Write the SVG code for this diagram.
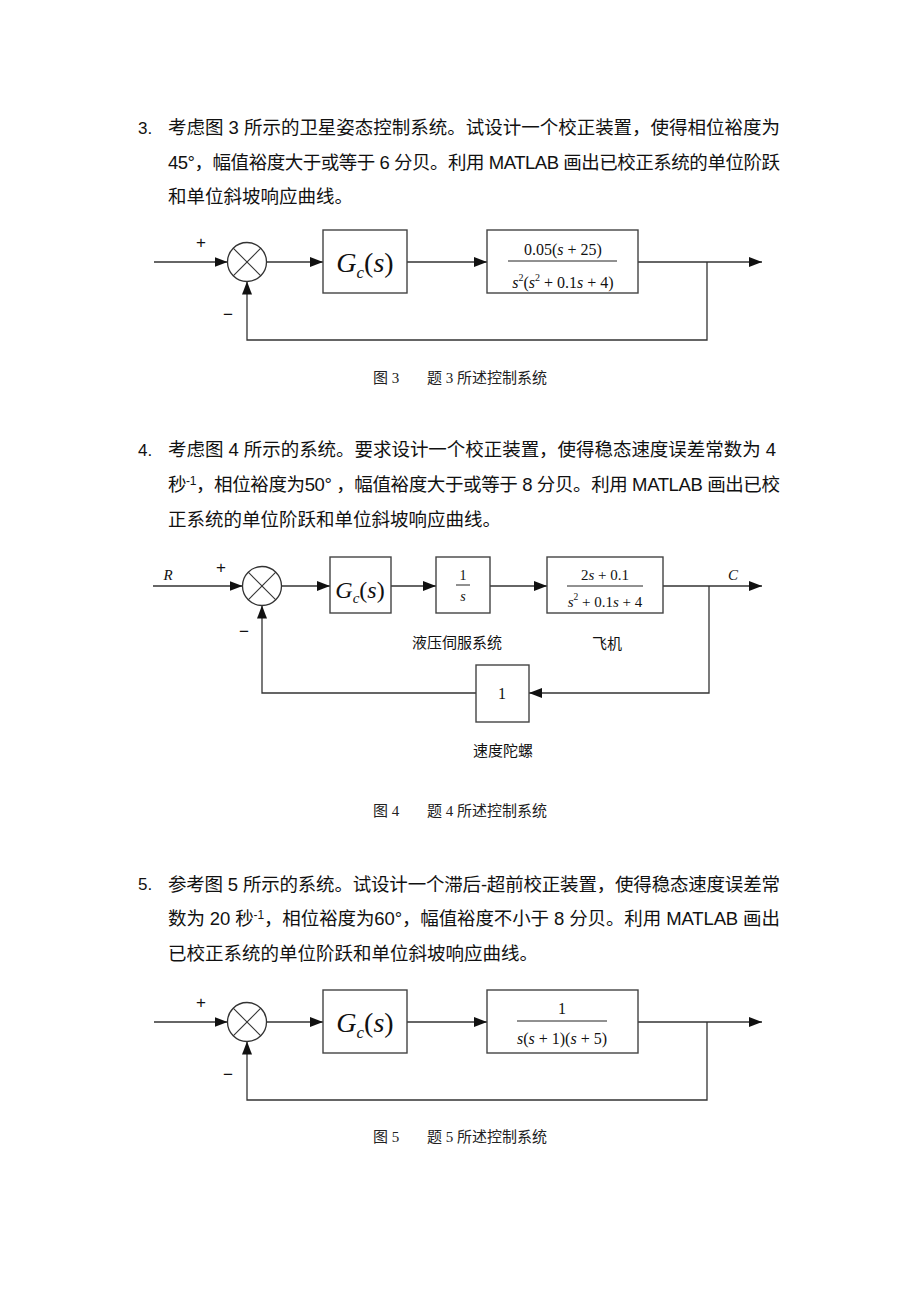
<svg xmlns="http://www.w3.org/2000/svg" width="920" height="1302" viewBox="0 0 920 1302">
<defs>
<marker id="ah" markerWidth="14" markerHeight="10" refX="13" refY="5" orient="auto" markerUnits="userSpaceOnUse">
<path d="M0,0 L13,5 L0,10 Z" fill="#111"/>
</marker>
<style>
.para{font-family:"Liberation Sans","Noto Sans CJK SC",sans-serif;font-size:18.5px;fill:#111}
.num{font-family:"Liberation Sans","Noto Sans CJK SC",sans-serif;font-size:17px;fill:#111}
.cap{font-family:"Liberation Serif","Noto Sans CJK SC",serif;font-size:15px;fill:#222}
.lab{font-family:"Noto Sans CJK SC",sans-serif;font-size:15px;fill:#111}
.sign{font-family:"Liberation Sans",sans-serif;font-size:17px;fill:#111}
.m{font-family:"Liberation Serif",serif;fill:#111}
.i{font-style:italic}
.box{fill:#fff;stroke:#444;stroke-width:1.4}
.sum{fill:#fff;stroke:#333;stroke-width:1.3}
.x{stroke:#333;stroke-width:1.1}
.w{fill:none;stroke:#333;stroke-width:1.3}
.fl{stroke:#222;stroke-width:1}
</style>
</defs>
<rect width="920" height="1302" fill="#fff"/>

<!-- Problem 3 text -->
<g id="problem3-text">
<text class="num" x="138" y="134">3.</text>
<text class="para" x="168" y="134" textLength="612" lengthAdjust="spacing">考虑图 3 所示的卫星姿态控制系统。试设计一个校正装置，使得相位裕度为</text>
<text class="para" x="168" y="169" textLength="612" lengthAdjust="spacing">45°，幅值裕度大于或等于 6 分贝。利用 MATLAB 画出已校正系统的单位阶跃</text>
<text class="para" x="168" y="203">和单位斜坡响应曲线。</text>
</g>

<!-- Figure 3 -->
<g id="fig3-connectors">
<line class="w" x1="154" y1="262" x2="227.5" y2="262" marker-end="url(#ah)"/>
<line class="w" x1="266.5" y1="262" x2="323" y2="262" marker-end="url(#ah)"/>
<line class="w" x1="407" y1="262" x2="487" y2="262" marker-end="url(#ah)"/>
<line class="w" x1="638" y1="262" x2="762" y2="262" marker-end="url(#ah)"/>
<polyline class="w" points="707,262 707,340 247,340 247,281.5" marker-end="url(#ah)"/>
</g>
<g id="fig3-sum">
<circle class="sum" cx="247" cy="262" r="19.5"/>
<line class="x" x1="233.2" y1="248.2" x2="260.8" y2="275.8"/>
<line class="x" x1="260.8" y1="248.2" x2="233.2" y2="275.8"/>
<text class="sign" x="201" y="248" text-anchor="middle">+</text>
<text class="sign" x="228" y="320" text-anchor="middle">−</text>
</g>
<g id="fig3-gc">
<rect class="box" x="323" y="230" width="84" height="63"/>
<text class="m i" x="365" y="272" font-size="28" text-anchor="middle">G<tspan font-size="17" dy="6">c</tspan><tspan dy="-6" font-style="normal">(</tspan>s<tspan font-style="normal">)</tspan></text>
</g>
<g id="fig3-plant">
<rect class="box" x="487" y="230" width="151" height="63"/>
<text class="m" x="563" y="255" font-size="16" text-anchor="middle">0.05(<tspan class="i">s</tspan> + 25)</text>
<line class="fl" x1="508" y1="261" x2="617" y2="261"/>
<text class="m" x="563" y="288" font-size="16" text-anchor="middle"><tspan class="i">s</tspan><tspan font-size="10" dy="-7">2</tspan><tspan dy="7">(</tspan><tspan class="i">s</tspan><tspan font-size="10" dy="-7">2</tspan><tspan dy="7"> + 0.1</tspan><tspan class="i">s</tspan> + 4)</text>
</g>
<g id="fig3-caption">
<text class="cap" x="373" y="383">图 3</text>
<text class="cap" x="427" y="383">题 3 所述控制系统</text>
</g>

<!-- Problem 4 text -->
<g id="problem4-text">
<text class="num" x="138" y="456">4.</text>
<text class="para" x="168" y="456" textLength="608" lengthAdjust="spacing">考虑图 4 所示的系统。要求设计一个校正装置，使得稳态速度误差常数为 4</text>
<text class="para" x="168" y="491" textLength="612" lengthAdjust="spacing">秒<tspan font-size="12" dy="-6">-1</tspan><tspan dy="6">，相位裕度为50° ，幅值裕度大于或等于 8 分贝。利用 MATLAB 画出已校</tspan></text>
<text class="para" x="168" y="526">正系统的单位阶跃和单位斜坡响应曲线。</text>
</g>

<!-- Figure 4 -->
<g id="fig4-connectors">
<line class="w" x1="153" y1="586" x2="242.5" y2="586" marker-end="url(#ah)"/>
<line class="w" x1="281.5" y1="586" x2="330" y2="586" marker-end="url(#ah)"/>
<line class="w" x1="391" y1="586" x2="436" y2="586" marker-end="url(#ah)"/>
<line class="w" x1="490" y1="586" x2="547" y2="586" marker-end="url(#ah)"/>
<line class="w" x1="663" y1="586" x2="762" y2="586" marker-end="url(#ah)"/>
<polyline class="w" points="709,586 709,693 529,693" marker-end="url(#ah)"/>
<polyline class="w" points="476,693 262,693 262,605.5" marker-end="url(#ah)"/>
</g>
<g id="fig4-sum">
<circle class="sum" cx="262" cy="586" r="19.5"/>
<line class="x" x1="248.2" y1="572.2" x2="275.8" y2="599.8"/>
<line class="x" x1="275.8" y1="572.2" x2="248.2" y2="599.8"/>
<text class="sign" x="221" y="573" text-anchor="middle">+</text>
<text class="sign" x="244" y="637" text-anchor="middle">−</text>
<text class="m i" x="168" y="580" font-size="15" text-anchor="middle">R</text>
<text class="m i" x="733" y="580" font-size="15" text-anchor="middle">C</text>
</g>
<g id="fig4-gc">
<rect class="box" x="330" y="557" width="61" height="56"/>
<text class="m i" x="360" y="598" font-size="24" text-anchor="middle">G<tspan font-size="15" dy="5">c</tspan><tspan dy="-5" font-style="normal">(</tspan>s<tspan font-style="normal">)</tspan></text>
</g>
<g id="fig4-servo">
<rect class="box" x="436" y="557" width="54" height="56"/>
<text class="m" x="463" y="580" font-size="14" text-anchor="middle">1</text>
<line class="fl" x1="456" y1="585" x2="470" y2="585"/>
<text class="m i" x="463" y="601" font-size="14" text-anchor="middle">s</text>
<text class="lab" x="457" y="648" text-anchor="middle">液压伺服系统</text>
</g>
<g id="fig4-plane">
<rect class="box" x="547" y="557" width="116" height="56"/>
<text class="m" x="605" y="580" font-size="15" text-anchor="middle">2<tspan class="i">s</tspan> + 0.1</text>
<line class="fl" x1="567" y1="586" x2="643" y2="586"/>
<text class="m" x="605" y="607" font-size="15" text-anchor="middle"><tspan class="i">s</tspan><tspan font-size="9.5" dy="-7">2</tspan><tspan dy="7"> + 0.1</tspan><tspan class="i">s</tspan> + 4</text>
<text class="lab" x="607" y="649" text-anchor="middle">飞机</text>
</g>
<g id="fig4-gyro">
<rect class="box" x="476" y="665" width="53" height="57"/>
<text class="m" x="502" y="699" font-size="16" text-anchor="middle">1</text>
<text class="lab" x="503" y="756" text-anchor="middle">速度陀螺</text>
</g>
<g id="fig4-caption">
<text class="cap" x="373" y="816">图 4</text>
<text class="cap" x="427" y="816">题 4 所述控制系统</text>
</g>

<!-- Problem 5 text -->
<g id="problem5-text">
<text class="num" x="138" y="890" font-size="15">5.</text>
<text class="para" x="168" y="891" textLength="612" lengthAdjust="spacing">参考图 5 所示的系统。试设计一个滞后-超前校正装置，使得稳态速度误差常</text>
<text class="para" x="168" y="925" textLength="612" lengthAdjust="spacing">数为 20 秒<tspan font-size="12" dy="-6">-1</tspan><tspan dy="6">，相位裕度为60°，幅值裕度不小于 8 分贝。利用 MATLAB 画出</tspan></text>
<text class="para" x="168" y="960">已校正系统的单位阶跃和单位斜坡响应曲线。</text>
</g>

<!-- Figure 5 -->
<g id="fig5-connectors">
<line class="w" x1="154" y1="1022" x2="227.5" y2="1022" marker-end="url(#ah)"/>
<line class="w" x1="266.5" y1="1022" x2="323" y2="1022" marker-end="url(#ah)"/>
<line class="w" x1="407" y1="1022" x2="487" y2="1022" marker-end="url(#ah)"/>
<line class="w" x1="638" y1="1022" x2="762" y2="1022" marker-end="url(#ah)"/>
<polyline class="w" points="707,1022 707,1100 247,1100 247,1041.5" marker-end="url(#ah)"/>
</g>
<g id="fig5-sum">
<circle class="sum" cx="247" cy="1022" r="19.5"/>
<line class="x" x1="233.2" y1="1008.2" x2="260.8" y2="1035.8"/>
<line class="x" x1="260.8" y1="1008.2" x2="233.2" y2="1035.8"/>
<text class="sign" x="201" y="1008" text-anchor="middle">+</text>
<text class="sign" x="228" y="1080" text-anchor="middle">−</text>
</g>
<g id="fig5-gc">
<rect class="box" x="323" y="990" width="84" height="63"/>
<text class="m i" x="365" y="1032" font-size="28" text-anchor="middle">G<tspan font-size="17" dy="6">c</tspan><tspan dy="-6" font-style="normal">(</tspan>s<tspan font-style="normal">)</tspan></text>
</g>
<g id="fig5-plant">
<rect class="box" x="487" y="990" width="151" height="63"/>
<text class="m" x="562" y="1014" font-size="16" text-anchor="middle">1</text>
<line class="fl" x1="517" y1="1021" x2="607" y2="1021"/>
<text class="m" x="562" y="1044" font-size="16" text-anchor="middle"><tspan class="i">s</tspan>(<tspan class="i">s</tspan> + 1)(<tspan class="i">s</tspan> + 5)</text>
</g>
<g id="fig5-caption">
<text class="cap" x="373" y="1142">图 5</text>
<text class="cap" x="427" y="1142">题 5 所述控制系统</text>
</g>
</svg>
